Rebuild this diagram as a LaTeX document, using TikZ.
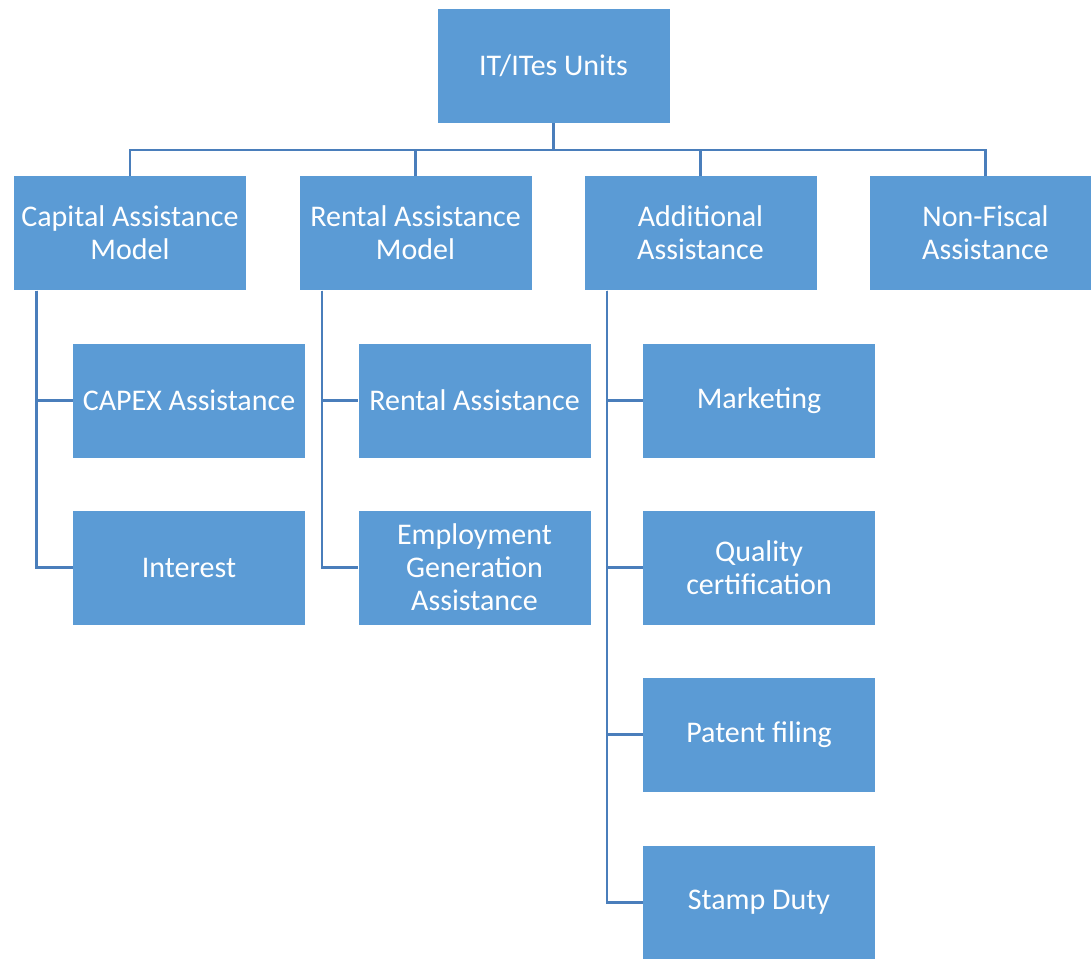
\documentclass[tikz,border=0pt]{standalone}
\usepackage{fontspec}
\setmainfont{Carlito}
\definecolor{boxblue}{HTML}{5B9BD5}
\definecolor{lineblue}{HTML}{4A7EBB}
\tikzset{
  unit/.style={draw=white, line width=0.6pt, fill=boxblue, text=white,
    minimum width=174.75pt, minimum height=86.25pt, inner sep=0pt, outer sep=0pt,
    align=center, font=\fontsize{22.5}{24.75}\selectfont},
  link/.style={draw=lineblue, line width=1.6pt}
}

\begin{document}
\begin{tikzpicture}[x=0.75pt, y=-0.75pt]

\useasboundingbox (0, 0) rectangle (1091, 958);
\clip (0, 0) rectangle (1091, 958);

\node[unit] (top) at (553.5, 65.5) {IT/ITes Units};

\node[unit] (cap) at (130, 233) {Capital Assistance\\Model};
\node[unit] (rent) at (415.5, 233) {Rental Assistance\\Model};
\node[unit] (add) at (700.5, 233) {Additional\\Assistance};
\node[unit] (nonfis) at (985.5, 233) {Non-Fiscal\\Assistance};

\node[unit] (capex) at (189, 400.5) {CAPEX Assistance};
\node[unit] (interest) at (189, 567.5) {Interest};

\node[unit] (rental) at (474.5, 400.5) {Rental Assistance};
\node[unit] (employ) at (474.5, 567.5) {Employment\\Generation\\Assistance};

\node[unit] (market) at (759, 400.5) {Marketing};
\node[unit] (quality) at (759, 567.5) {Quality\\certification};
\node[unit] (patent) at (759, 734.5) {Patent filing};
\node[unit] (stamp) at (759, 902.5) {Stamp Duty};

\foreach \n in {cap, rent, add, nonfis}{
\draw[link] (top.south) -- ++(0, 27) -| (\n.north);
}

\foreach \n in {capex, interest}{
\draw[link] (cap.south west) ++(23, 0) |- (\n.west);
}

\foreach \n in {rental, employ}{
\draw[link] (rent.south west) ++(23, 0) |- (\n.west);
}

\foreach \n in {market, quality, patent, stamp}{
\draw[link] (add.south west) ++(23, 0) |- (\n.west);
}

\end{tikzpicture}
\end{document}
